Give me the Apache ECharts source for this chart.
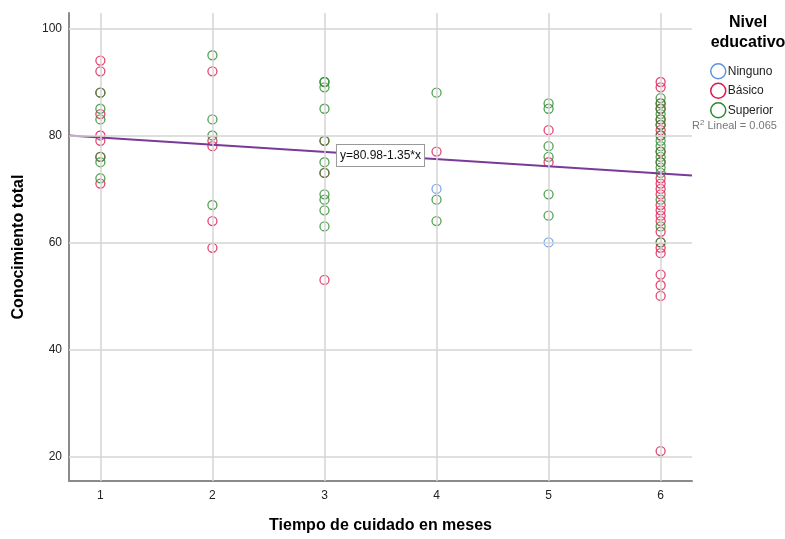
<!DOCTYPE html>
<html lang="es">
<head>
<meta charset="UTF-8">
<title>Conocimiento total</title>
<style>
  html, body { margin: 0; padding: 0; background: #fff; }
  #chart { width: 785px; height: 539px; }
</style>
<script src="https://cdn.jsdelivr.net/npm/echarts@6/dist/echarts.min.js"></script>
</head>
<body>
<div id="chart"></div>
<script>
// data: [meses, conocimiento]
var ningunoPts = [[4, 70], [5, 60]];
var basicoPts = [
  [1, 94], [1, 92], [1, 88], [1, 84], [1, 80], [1, 79], [1, 76], [1, 71],
  [2, 92], [2, 79], [2, 78], [2, 64], [2, 59],
  [3, 79], [3, 73], [3, 53],
  [4, 77],
  [5, 81], [5, 75],
  [6, 90], [6, 89], [6, 86], [6, 85], [6, 83], [6, 82], [6, 81], [6, 80], [6, 77], [6, 75],
  [6, 72], [6, 71], [6, 70], [6, 69], [6, 67], [6, 66], [6, 65], [6, 64], [6, 62], [6, 60],
  [6, 59], [6, 58], [6, 54], [6, 52], [6, 50], [6, 21]
];
var superiorPts = [
  [1, 88], [1, 85], [1, 83], [1, 76], [1, 75], [1, 72],
  [2, 95], [2, 83], [2, 80], [2, 67],
  [3, 90], [3, 90], [3, 89], [3, 85], [3, 79], [3, 75], [3, 73], [3, 69], [3, 68], [3, 66], [3, 63],
  [4, 88], [4, 68], [4, 64],
  [5, 86], [5, 85], [5, 78], [5, 76], [5, 69], [5, 65],
  [6, 87], [6, 86], [6, 85], [6, 84], [6, 83], [6, 82], [6, 80], [6, 79], [6, 78], [6, 77],
  [6, 76], [6, 75], [6, 74], [6, 73], [6, 68], [6, 63], [6, 60]
];
var xTicks = [1, 2, 3, 4, 5, 6];
var yTicks = [20, 40, 60, 80, 100];
var intercept = 80.98;
var slope = -1.35;
var r2Text = 'R{sup|2} Lineal = 0.065';

var xMin = 0.72, xMax = 6.28;
var fitLine = [[xMin, intercept + slope * xMin], [xMax, intercept + slope * xMax]];
var labelX = 3.5;

var colors = { 'Ninguno': '#5b93e0', 'Básico': '#e0174f', 'Superior': '#2a8a2a' };

var chart = echarts.init(document.getElementById('chart'));

function scatter(name, pts) {
  return {
    name: name,
    type: 'scatter',
    data: pts,
    symbol: 'circle',
    symbolSize: 9,
    itemStyle: { color: 'transparent', borderColor: colors[name], borderWidth: 1.3, opacity: 0.8 },
    z: 3
  };
}

function legendItem(name) {
  return {
    name: name,
    icon: 'circle',
    itemStyle: { color: '#fff', borderColor: colors[name], borderWidth: 1.5, opacity: 1 }
  };
}

var gridColor = '#d4d4d4';

var option = {
  animation: false,
  backgroundColor: '#fff',
  textStyle: { fontFamily: 'Liberation Sans, Arial, sans-serif' },
  title: {
    text: 'Nivel\neducativo',
    left: 743,
    top: 8,
    textAlign: 'center',
    textStyle: { fontSize: 16, fontWeight: 'bold', color: '#000', lineHeight: 20 }
  },
  legend: {
    orient: 'vertical',
    left: 705,
    top: 58,
    itemWidth: 15,
    itemHeight: 15,
    itemGap: 3,
    data: ['Ninguno', 'Básico', 'Superior'].map(legendItem),
    textStyle: { fontSize: 12, color: '#222', padding: [0, 0, 0, -3] }
  },
  graphic: [{
    type: 'text',
    left: 692,
    top: 119,
    style: {
      text: r2Text,
      fill: '#777',
      font: '11px Liberation Sans, Arial',
      rich: { sup: { fontSize: 8, verticalAlign: 'top', fill: '#777', padding: [0, 0, 5, 0] } }
    }
  }],
  grid: { left: 69, right: 93, top: 13, bottom: 58, outerBoundsMode: 'none', containLabel: false },
  xAxis: {
    type: 'value',
    min: xMin,
    max: xMax,
    name: 'Tiempo de cuidado en meses',
    nameLocation: 'middle',
    nameGap: 37,
    nameTextStyle: { fontSize: 16, fontWeight: 'bold', color: '#000' },
    axisLine: { lineStyle: { color: '#8a8a8a', width: 2 } },
    axisTick: { show: false, customValues: xTicks },
    axisLabel: { customValues: xTicks, color: '#222', fontSize: 12, margin: 9 },
    splitLine: { show: false }
  },
  yAxis: {
    type: 'value',
    min: 15.4,
    max: 102.9,
    name: 'Conocimiento total',
    nameLocation: 'middle',
    nameGap: 42,
    nameTextStyle: { fontSize: 16, fontWeight: 'bold', color: '#000' },
    axisLine: { show: true, lineStyle: { color: '#8a8a8a', width: 2 } },
    axisTick: { show: false, customValues: yTicks },
    axisLabel: { customValues: yTicks, color: '#222', fontSize: 12, margin: 7 },
    splitLine: { show: false }
  },
  series: [
    {
      name: 'grid',
      type: 'line',
      data: [],
      silent: true,
      markLine: {
        silent: true,
        symbol: 'none',
        label: { show: false },
        lineStyle: { color: gridColor, width: 1.5, type: 'solid' },
        data: yTicks.map(function (v) { return { yAxis: v }; })
          .concat(xTicks.map(function (v) { return { xAxis: v }; }))
      },
      z: 1
    },
    scatter('Ninguno', ningunoPts),
    scatter('Básico', basicoPts),
    scatter('Superior', superiorPts),
    {
      name: 'fit',
      type: 'line',
      data: fitLine,
      symbol: 'none',
      silent: true,
      lineStyle: { color: '#7a3a9a', width: 2 },
      z: 4,
      markPoint: {
        symbol: 'rect',
        symbolSize: 0,
        data: [{ coord: [labelX, intercept + slope * labelX] }],
        label: {
          show: true,
          position: 'inside',
          formatter: 'y=' + intercept.toFixed(2) + (slope < 0 ? '-' : '+') + Math.abs(slope).toFixed(2) + '*x',
          color: '#111',
          fontSize: 12,
          backgroundColor: '#fff',
          borderColor: '#999',
          borderWidth: 1,
          padding: [5, 3, 4, 3]
        }
      }
    }
  ]
};
chart.setOption(option);
</script>
</body>
</html>
